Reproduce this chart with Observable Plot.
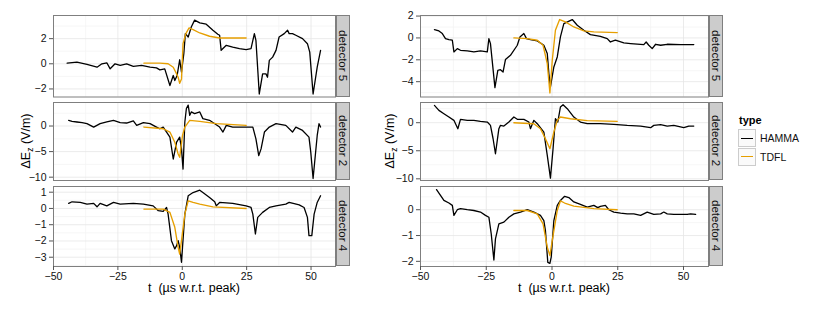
<!DOCTYPE html>
<html><head><meta charset="utf-8">
<script src="https://cdn.jsdelivr.net/npm/d3@7"></script>
<script src="https://cdn.jsdelivr.net/npm/@observablehq/plot@0.6"></script>
<style>
body{margin:0;background:#fff;font-family:"Liberation Sans",Arial,Helvetica,sans-serif;}
#chart{position:relative;width:831px;height:310px;overflow:hidden;}
.panel{position:absolute;}
.strip{position:absolute;background:#cccccc;border:1px solid #7f7f7f;box-sizing:border-box;display:flex;align-items:center;justify-content:center;}
.strip span{writing-mode:vertical-rl;font-size:11.5px;color:#111;white-space:nowrap;}
.ytitle{position:absolute;transform:translate(-50%,-50%) rotate(-90deg);font-size:12.5px;white-space:nowrap;color:#000;}
.ytitle sub{font-size:8.5px;}
.xtitle{position:absolute;transform:translateX(-50%);font-size:12.5px;white-space:pre;color:#000;}
.legtitle{position:absolute;font-size:11px;font-weight:bold;}
.key{position:absolute;width:18px;height:18px;box-sizing:border-box;border:1px solid #cccccc;background:#fafafa;}
.key div{position:absolute;left:2px;right:2px;top:7.5px;height:1.4px;}
.leglabel{position:absolute;font-size:10.5px;transform:translateY(-50%);color:#111;}
</style></head><body><div id="chart"></div>
<script>
// ---- categories / ticks ----
const detectors = ["detector 5", "detector 2", "detector 4"];
const types = ["HAMMA", "TDFL"];
const typeColors = ["#000000", "#E69F00"];
const xTicks = [-50, -25, 0, 25, 50];
const xMinor = [-37.5, -12.5, 12.5, 37.5];
const xTitle = "t  (\u00b5s w.r.t. peak)";

// ---- left event: HAMMA & TDFL, [t, dEz] ----
const hammaL5 = [[-44.7,0.05],[-40.9,0.13],[-37.0,-0.05],[-33.1,-0.27],[-31.2,0],[-29.3,0.08],[-28.0,-0.4],[-26.1,0],[-24.1,-0.13],[-21.6,0],[-19.0,-0.21],[-15.8,-0.13],[-12.5,-0.27],[-10.0,-0.32],[-8.7,-0.48],[-6.8,-0.4],[-4.8,-1.73],[-3.5,-0.93],[-2.9,-1.33],[-2.0,-0.93],[-1.0,0.32],[-0.3,-0.67],[0.6,0.8],[1.2,2.4],[2.3,2.13],[3.5,2.93],[4.8,3.47],[6.8,3.25],[9.3,3.15],[11.9,2.67],[13.8,2.35],[14.5,2.27],[15.1,1.07],[17.1,1.47],[19.6,1.33],[22.2,1.2],[24.8,1.12],[26.7,1.2],[28.0,2.4],[28.6,1.87],[29.9,-2.4],[31.2,-0.8],[32.5,-0.8],[33.1,-1.07],[33.8,0.27],[35.1,0.53],[36.4,1.07],[37.6,2.13],[39.6,2.4],[40.9,2.67],[41.5,2.4],[42.8,2.4],[44.1,2.27],[46.7,2.0],[48.6,1.6],[49.5,0.93],[50.8,-2.4],[52.4,-0.27],[53.7,1.07]];
const tdflL5 = [[-14.9,0.05],[-8.7,0.05],[-5.5,0],[-3.5,-0.27],[-2.2,-0.8],[-1.6,-1.07],[-1.0,-1.55],[-0.3,-1.2],[0.3,1.6],[1.4,2.4],[2.6,2.85],[4.2,2.72],[6.8,2.45],[10.6,2.19],[14.5,2.05],[24.8,2.05]];
const hammaL2 = [[-44.1,1.12],[-42.8,0.92],[-40.9,0.79],[-38.9,0.66],[-37.0,0.46],[-34.4,-0.2],[-31.9,0.46],[-29.3,0.79],[-26.7,1.12],[-24.1,0.66],[-21.6,0.59],[-19.0,0.99],[-17.7,0.13],[-15.1,0.66],[-12.5,0.46],[-10.0,-0.2],[-8.7,-0.53],[-7.4,-0.2],[-6.1,-1.18],[-4.8,-2.17],[-3.5,-6.45],[-2.2,-3.16],[-1.0,-2.17],[-0.3,-4.47],[0.3,-8.42],[1.0,0.79],[1.6,3.42],[2.3,4.08],[2.9,2.1],[3.5,2.76],[4.8,2.43],[6.8,2.76],[8.0,1.45],[10.6,1.12],[14.5,-0.2],[15.8,-1.18],[17.1,0.13],[19.6,-0.2],[24.8,-0.2],[27.4,-0.2],[28.6,-2.5],[29.7,-5.79],[30.6,-4.47],[31.9,-1.18],[33.8,-0.2],[36.4,0.46],[40.2,0.13],[42.8,-1.18],[44.1,-0.2],[46.7,-0.86],[49.2,-2.17],[49.9,-5.13],[50.8,-10.26],[52.4,-1.84],[53.1,0.46],[53.7,-0.2]];
const tdflL2 = [[-14.9,-0.2],[-7.4,-0.53],[-4.8,-1.18],[-2.9,-3.16],[-1.6,-5.46],[-1.0,-6.12],[0.1,-1.84],[1.0,-0.2],[2.9,1.12],[6.8,0.92],[13.2,0.46],[24.8,0.13]];
const hammaL4 = [[-44.1,0.31],[-42.8,0.41],[-39.6,0.37],[-37.0,0.27],[-34.4,0.31],[-33.1,0.1],[-31.9,0.31],[-29.3,0.16],[-26.7,0.37],[-24.1,0.27],[-19.0,0.31],[-15.1,0.27],[-11.3,0.16],[-9.3,-0.14],[-7.4,-0.18],[-6.1,0.06],[-5.5,-0.35],[-4.2,-1.98],[-2.9,-2.49],[-2.2,-2.29],[-1.6,-1.98],[-1.0,-2.39],[-0.3,-3.31],[0.1,-2.39],[1.0,-0.35],[2.3,0.78],[4.2,0.98],[6.8,1.12],[8.0,0.98],[10.6,0.67],[12.6,0.41],[13.2,0.16],[14.5,0.37],[19.6,0.31],[24.8,0.16],[26.7,0.06],[27.4,-0.35],[28.4,-1.57],[29.3,-0.55],[31.2,-0.24],[33.8,0.06],[36.4,0.16],[40.2,0.27],[41.5,0.37],[45.4,0.22],[47.3,0.06],[48.6,-0.55],[49.2,-1.67],[50.3,-1.67],[51.2,-0.35],[52.4,0.37],[53.7,0.78]];
const tdflL4 = [[-14.9,-0.04],[-7.4,-0.04],[-4.8,-0.24],[-2.9,-1.16],[-1.6,-2.39],[-1.0,-2.8],[-0.3,-1.98],[1.0,-0.35],[2.3,0.47],[4.2,0.37],[6.8,0.27],[11.9,0.1],[24.8,0]];

// ---- right event ----
const hammaR5 = [[-44.7,0.76],[-43.0,0.64],[-41.7,0.4],[-40.5,-0.06],[-39.2,-0.15],[-37.9,-0.21],[-37.3,-1.28],[-36.0,-0.98],[-34.8,-1.13],[-32.2,-1.19],[-29.7,-1.28],[-27.2,-1.19],[-24.6,-1.28],[-24.0,-0.06],[-23.4,-0.52],[-21.7,-4.54],[-20.6,-2.96],[-19.6,-2.9],[-18.6,-3.11],[-17.7,-1.98],[-15.8,-1.59],[-13.2,-0.67],[-12.2,0.09],[-10.7,0.4],[-9.7,-0.06],[-8.2,-0.15],[-5.6,-0.27],[-3.1,-0.67],[-1.8,-1.43],[-1.2,-3.26],[-0.6,-4.48],[0.7,-2.65],[2.0,-1.74],[3.2,0.09],[4.5,1.31],[7.7,1.68],[9.6,1.16],[12.1,0.7],[14.6,0.3],[18.4,0.15],[21.0,-0.06],[22.2,-0.37],[24.1,-0.21],[27.3,-0.46],[29.9,-0.52],[34.9,-0.61],[35.8,-0.37],[36.8,-0.67],[38.1,-0.98],[39.4,-0.58],[41.3,-0.67],[43.8,-0.58],[48.9,-0.61],[53.9,-0.61]];
const tdflR5 = [[-14.5,0],[-9.4,-0.06],[-5.6,-0.21],[-3.4,-0.67],[-1.8,-2.35],[-0.8,-5.03],[0.1,-2.04],[1.3,0.7],[2.9,1.68],[5.1,1.46],[8.3,1.0],[12.1,0.64],[15.9,0.55],[24.8,0.49]];
const hammaR2 = [[-44.7,3.09],[-43.0,2.2],[-41.1,1.61],[-39.2,1.01],[-37.3,0.42],[-35.8,-1.07],[-34.8,0.6],[-32.2,0.42],[-29.7,0.42],[-27.2,0.24],[-24.6,0.12],[-23.4,-0.48],[-22.4,-2.86],[-21.5,-5.53],[-20.2,-1.07],[-19.6,-0.48],[-18.3,-0.6],[-16.4,0.12],[-14.5,1.01],[-13.2,0.6],[-10.7,0.6],[-8.8,0.12],[-8.2,-1.07],[-6.9,0.42],[-5.6,-0.18],[-3.1,-1.67],[-1.8,-5.83],[-0.6,-9.88],[0.4,-4.64],[1.3,0.71],[2.2,0.12],[3.2,2.8],[4.2,3.21],[5.8,2.5],[8.3,1.01],[10.8,0.12],[13.4,-0.18],[18.4,-0.18],[23.5,-0.3],[28.6,-0.48],[33.7,-0.6],[37.5,-0.89],[38.7,-0.48],[41.3,-0.36],[43.8,-0.6],[46.3,-0.48],[50.1,-0.89],[52.0,-0.6],[53.9,-0.6]];
const tdflR2 = [[-14.5,0],[-6.9,-0.18],[-4.4,-1.07],[-2.5,-2.86],[-0.8,-4.64],[0.7,-1.67],[2.0,0.42],[3.2,1.01],[7.0,0.71],[13.4,0.36],[24.8,0.24]];
const hammaR4 = [[-43.9,0.78],[-42.4,0.56],[-41.1,0.36],[-39.2,0.26],[-37.9,0.17],[-37.3,-0.22],[-36.0,0],[-34.8,0.04],[-32.2,0],[-29.7,-0.03],[-27.2,-0.09],[-25.3,-0.22],[-24.0,-0.29],[-23.1,-0.94],[-22.1,-1.95],[-21.5,-1.13],[-20.2,-0.55],[-18.3,-0.48],[-16.4,-0.29],[-14.5,-0.16],[-12.0,-0.09],[-9.4,0],[-6.9,-0.09],[-4.4,-0.22],[-3.1,-0.42],[-2.5,-0.81],[-1.6,-2.04],[-0.8,-2.08],[-0.3,-1.84],[0.7,-0.42],[2.0,0.17],[3.2,0.36],[4.8,0.52],[6.4,0.47],[8.3,0.3],[10.8,0.21],[13.4,0.1],[15.9,0.17],[17.4,0.08],[18.4,0.13],[20.3,0.17],[21.6,0],[23.5,-0.09],[26.1,-0.13],[28.6,-0.16],[31.1,-0.16],[33.7,-0.22],[36.2,-0.09],[38.7,-0.18],[41.3,-0.16],[42.5,-0.09],[43.8,-0.16],[46.3,-0.18],[51.4,-0.18],[52.7,-0.16],[54.6,-0.18]];
const tdflR4 = [[-14.5,-0.03],[-9.4,-0.03],[-5.6,-0.16],[-3.4,-0.55],[-1.8,-1.45],[-0.8,-1.78],[0.1,-1.19],[2.0,-0.03],[3.2,0.34],[4.8,0.26],[8.3,0.14],[15.9,0.04],[24.8,0]];

// ---- per-panel y scales (free) ----
const yDomains = [[[-2.64,3.84],[-10.65,4.6],[-3.57,1.35]], [[-5.4,2.05],[-10.3,3.6],[-2.2,0.9]]];
const yTicks = [[[-2,0,2],[-10,-5,0],[-3,-2,-1,0,1]], [[-4,-2,0,2],[-10,-5,0],[-2,-1,0]]];
const series = [[[hammaL5,tdflL5],[hammaL2,tdflL2],[hammaL4,tdflL4]], [[hammaR5,tdflR5],[hammaR2,tdflR2],[hammaR4,tdflR4]]];

// ---- layout ----
const cols = [{x0:53, x1:335, strip:336, yt:27, xc:194}, {x0:420, x1:708, strip:709, yt:391, xc:564}];
const rows = [{y0:15, y1:96.5}, {y0:102, y1:180}, {y0:186, y1:266}];
const ML = 34, MB = 30;
const chart = document.getElementById("chart");
const fmt = d => d < 0 ? "\u2212" + Math.abs(d) : String(d);

function minorOf(t, dom) {
  const step = t[1]-t[0], out = [];
  for (let v = t[0]-step/2; v <= dom[1]; v += step) if (v >= dom[0] && !t.includes(v)) out.push(v);
  return out;
}

cols.forEach((c, ci) => {
  rows.forEach((r, ri) => {
    const pw = c.x1 - c.x0, ph = r.y1 - r.y0;
    const bottom = ri === rows.length - 1;
    const yd = yDomains[ci][ri], yt = yTicks[ci][ri];
    const [ham, tdfl] = series[ci][ri];
    const marks = [
      Plot.ruleX(xMinor, {stroke:"#f4f4f4", strokeWidth:0.8}),
      Plot.ruleY(minorOf(yt, yd), {stroke:"#f4f4f4", strokeWidth:0.8}),
      Plot.ruleX(xTicks, {stroke:"#e6e6e6", strokeWidth:0.8}),
      Plot.ruleY(yt, {stroke:"#e6e6e6", strokeWidth:0.8}),
      Plot.line(ham, {x: d=>d[0], y: d=>d[1], stroke: typeColors[0], strokeWidth: 1.3}),
      Plot.line(tdfl, {x: d=>d[0], y: d=>d[1], stroke: typeColors[1], strokeWidth: 1.35}),
      Plot.frame({stroke:"#7f7f7f", strokeWidth:1}),
      Plot.axisY({ticks: yt, tickFormat: fmt, tickSize: 4, tickPadding: 3, stroke:"#555", fill:"#111", fontSize: 10.5, label: null})
    ];
    if (bottom) marks.push(Plot.axisX({ticks: xTicks, tickFormat: fmt, tickSize: 4, tickPadding: 2, stroke:"#555", fill:"#111", fontSize: 10.5, label: null}));
    const p = Plot.plot({
      width: pw + ML + 1, height: ph + 1 + (bottom ? MB : 1),
      marginLeft: ML, marginRight: 1, marginTop: 1, marginBottom: bottom ? MB : 1,
      style: {fontFamily: '"Liberation Sans", Arial, sans-serif', background: "transparent", overflow: "visible"},
      x: {domain: [-50, 59.5], axis: null},
      y: {domain: yd, axis: null},
      marks
    });
    const wrap = document.createElement("div");
    wrap.className = "panel";
    wrap.style.left = (c.x0 - ML) + "px";
    wrap.style.top = (r.y0 - 1) + "px";
    wrap.appendChild(p);
    chart.appendChild(wrap);
    const s = document.createElement("div");
    s.className = "strip";
    s.style.left = c.strip + "px"; s.style.top = r.y0 + "px";
    s.style.width = "14px"; s.style.height = ph + "px";
    s.innerHTML = `<span>${detectors[ri]}</span>`;
    chart.appendChild(s);
  });
  const yt = document.createElement("div");
  yt.className = "ytitle";
  yt.style.left = c.yt + "px"; yt.style.top = "141px";
  yt.innerHTML = "\u0394E<sub>z</sub> (V/m)";
  chart.appendChild(yt);
  const xt = document.createElement("div");
  xt.className = "xtitle";
  xt.style.left = c.xc + "px"; xt.style.top = "281px";
  xt.textContent = xTitle;
  chart.appendChild(xt);
});

// legend
const lt = document.createElement("div");
lt.className = "legtitle"; lt.style.left = "739px"; lt.style.top = "114px"; lt.textContent = "type";
chart.appendChild(lt);
types.forEach((t, i) => {
  const k = document.createElement("div");
  k.className = "key"; k.style.left = "738px"; k.style.top = (129 + i*18.5) + "px";
  k.innerHTML = `<div style="background:${typeColors[i]}"></div>`;
  chart.appendChild(k);
  const l = document.createElement("div");
  l.className = "leglabel"; l.style.left = "760px"; l.style.top = (138 + i*18.5) + "px";
  l.textContent = t;
  chart.appendChild(l);
});
</script></body></html>
